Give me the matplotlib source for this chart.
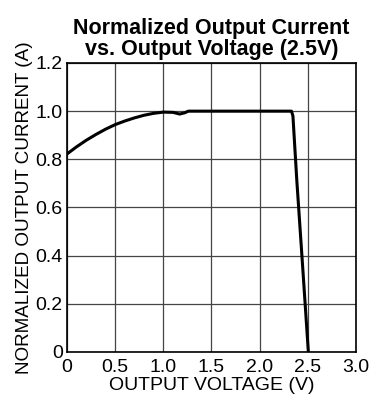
import numpy as np
import matplotlib
matplotlib.use('Agg')
import matplotlib.pyplot as plt

plt.rcParams['font.family'] = ['Liberation Sans', 'DejaVu Sans']

# Normalized output current vs output voltage
v_out = [0.0, 0.1, 0.2, 0.3, 0.4, 0.5, 0.6, 0.7, 0.8, 0.9, 1.0, 1.1, 1.17,
         1.22, 1.26, 1.4, 1.6, 1.8, 2.0, 2.2, 2.33, 2.345, 2.385, 2.45, 2.505]
i_norm = [0.822, 0.852, 0.879, 0.903, 0.925, 0.944, 0.959, 0.972, 0.983,
          0.991, 0.996, 0.995, 0.988, 0.993, 1.0, 1.0, 1.0, 1.0, 1.0, 1.0,
          1.0, 0.98, 0.714, 0.33, 0.0]

x_ticks = [0, 0.5, 1.0, 1.5, 2.0, 2.5, 3.0]
x_tick_labels = ['0', '0.5', '1.0', '1.5', '2.0', '2.5', '3.0']
y_ticks = [0, 0.2, 0.4, 0.6, 0.8, 1.0, 1.2]
y_tick_labels = ['0', '0.2', '0.4', '0.6', '0.8', '1.0', '1.2']

fig = plt.figure(figsize=(3.74, 4.03), dpi=100)
ax = fig.add_axes([0.179, 0.1266, 0.773, 0.7171])

ax.plot(v_out, i_norm, color='black', linewidth=2.2, zorder=3)

ax.set_xlim(0, 3.0)
ax.set_ylim(0, 1.2)
ax.set_xticks(x_ticks)
ax.set_xticklabels(x_tick_labels)
ax.set_yticks(y_ticks)
ax.set_yticklabels(y_tick_labels)
ax.tick_params(length=0, labelsize=14)
ax.tick_params(axis='y', pad=3)
ax.tick_params(axis='x', pad=5)
ax.grid(True, color='#444444', linewidth=0.9)
for s in ax.spines.values():
    s.set_linewidth(1.2)

ax.set_xlabel('OUTPUT VOLTAGE (V)', fontsize=14, labelpad=1)
ax.set_ylabel('NORMALIZED OUTPUT CURRENT (A)', fontsize=13.6, labelpad=2)
ax.set_title('Normalized Output Current\nvs. Output Voltage (2.5V)',
             fontsize=15.5, fontweight='bold', linespacing=1.0, pad=6)

fig.savefig('out.png', dpi=100)
